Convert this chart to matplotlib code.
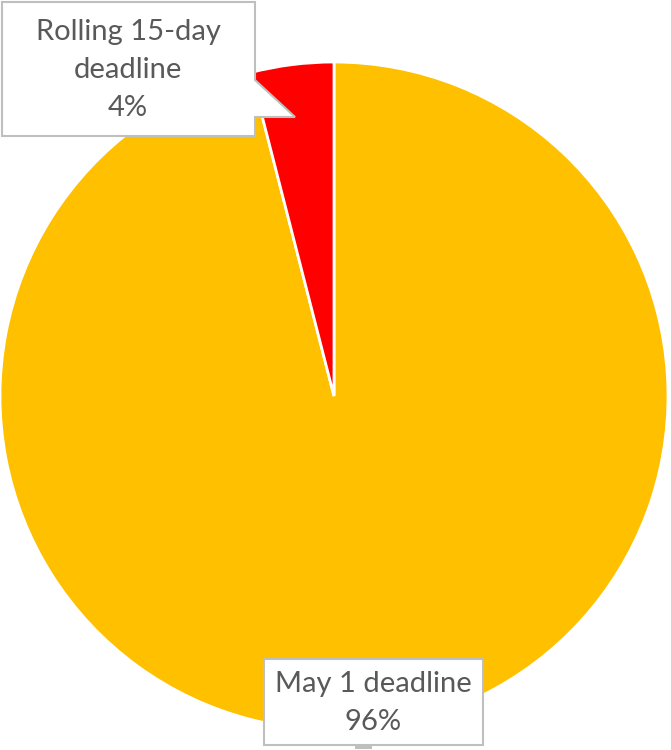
import textwrap
import matplotlib
matplotlib.use("Agg")
import matplotlib.pyplot as plt
from matplotlib.patches import Polygon

categories = ["May 1 deadline", "Rolling 15-day deadline"]
values = [96, 4]
colors = ["#FFC000", "#FF0000"]

W, H = 671, 750
fig = plt.figure(figsize=(W / 100, H / 100), dpi=100)
ax = fig.add_axes([0, 0, 1, 1])

def Y(y):
    return H - y

cx, cy, r = 334, 396, 334
ax.pie(values, colors=colors, startangle=90, counterclock=False,
       center=(cx, Y(cy)), radius=r, frame=True,
       wedgeprops=dict(edgecolor="white", linewidth=2))
ax.set_xlim(0, W)
ax.set_ylim(0, H)
ax.set_aspect("equal")
ax.axis("off")

total = sum(values)
labels = [textwrap.fill(c, 15) + f"\n{round(v / total * 100)}%" for c, v in zip(categories, values)]

font = dict(family=["Lato", "DejaVu Sans"], color="#595959", fontsize=21)
edge = "#BFBFBF"

# Box for the small slice (with callout pointer)
pts1 = [(2, 2), (255, 2), (255, 80), (295, 117), (255, 117), (255, 136), (2, 136)]
ax.add_patch(Polygon([(x, Y(y)) for x, y in pts1], closed=True,
                     facecolor="white", edgecolor=edge, linewidth=1.5, zorder=5))
ax.text(128, Y(70), labels[1], ha="center", va="center", linespacing=1.55,
        zorder=6, **font)

# Box for the big slice
pts2 = [(264, 659), (483, 659), (483, 745), (264, 745)]
ax.add_patch(Polygon([(x, Y(y)) for x, y in pts2], closed=True,
                     facecolor="white", edgecolor=edge, linewidth=1.5, zorder=5))
ax.add_patch(Polygon([(x, Y(y)) for x, y in [(355, 745), (372, 745), (372, 749), (355, 749)]],
                     closed=True, facecolor=edge, edgecolor="none", zorder=5))
ax.text(373, Y(703), labels[0], ha="center", va="center", linespacing=1.55,
        zorder=6, **font)

fig.savefig("out.png", dpi=100)
